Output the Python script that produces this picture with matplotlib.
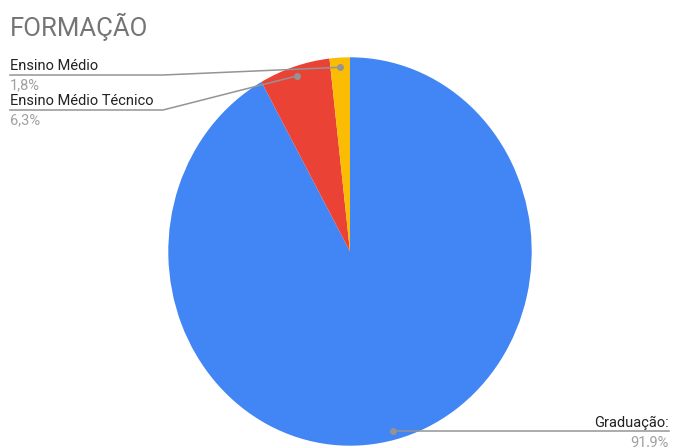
import numpy as np
import matplotlib.pyplot as plt

plt.rcParams['font.family'] = ['Roboto', 'DejaVu Sans']

# shares by education level (clockwise from 12 o'clock)
labels = ['Graduação:', 'Ensino Médio Técnico', 'Ensino Médio']
pct_text = ['91,9%', '6,3%', '1,8%']
values = [91.9, 6.3, 1.8]
colors = ['#4285F4', '#EA4335', '#FBBC04']

W, H = 692, 447
fig = plt.figure(figsize=(W / 100, H / 100), dpi=100)


def px(x, y):
    # pixel position (from top-left) -> figure fraction
    return x / W, 1 - y / H


# pie box in pixels: left, top, right, bottom
l, t, r, b = 168.3, 57.3, 531.7, 445.7
ax = fig.add_axes([l / W, 1 - b / H, (r - l) / W, (b - t) / H])
wedges, _ = ax.pie(values, colors=colors, startangle=90, counterclock=False,
                   wedgeprops=dict(linewidth=0))
ax.set_aspect('auto')
ax.set_xlim(-1, 1)
ax.set_ylim(-1, 1)
ax.axis('off')

fig.text(*px(10, 36), 'FORMAÇÃO', fontsize=18.5, color='#757575', va='baseline')

line_col = '#949494'
# label layout: text anchor, underline y, elbow x, alignment
layout = {
    'Ensino Médio': dict(x=10, y=70, py=89, uy=75, ex=163, ha='left'),
    'Ensino Médio Técnico': dict(x=10, y=105, py=124, uy=110, ex=163, ha='left'),
    'Graduação:': dict(x=669, y=426.5, py=446, uy=430.7, ex=669, ha='right'),
}

to_fig = ax.transData + fig.transFigure.inverted()
for w, lab, pt in zip(wedges, labels, pct_text):
    mid = np.deg2rad((w.theta1 + w.theta2) / 2)
    dot = to_fig.transform((0.95 * np.cos(mid), 0.95 * np.sin(mid)))
    lo = layout[lab]
    fig.text(*px(lo['x'], lo['y']), lab, fontsize=10.5, color='#222222',
             ha=lo['ha'], va='baseline')
    fig.text(*px(lo['x'], lo['py']), pt, fontsize=10.5, color='#a0a0a0',
             ha=lo['ha'], va='baseline')
    if lo['ha'] == 'left':
        x0, ey = px(lo['x'], lo['uy'])
        x1, _ = px(lo['ex'], lo['uy'])
        xs = [x0, x1, dot[0]]
        ys = [ey, ey, dot[1]]
    else:
        x1, ey = px(lo['ex'], lo['uy'])
        xs = [x1, dot[0]]
        ys = [ey, ey]
        dot = (dot[0], ey)
    fig.add_artist(plt.Line2D(xs, ys, color=line_col, lw=1.1,
                              transform=fig.transFigure))
    fig.add_artist(plt.Line2D([dot[0]], [dot[1]], marker='o', ms=4,
                              color=line_col, transform=fig.transFigure))

fig.savefig('out.png', dpi=100)
